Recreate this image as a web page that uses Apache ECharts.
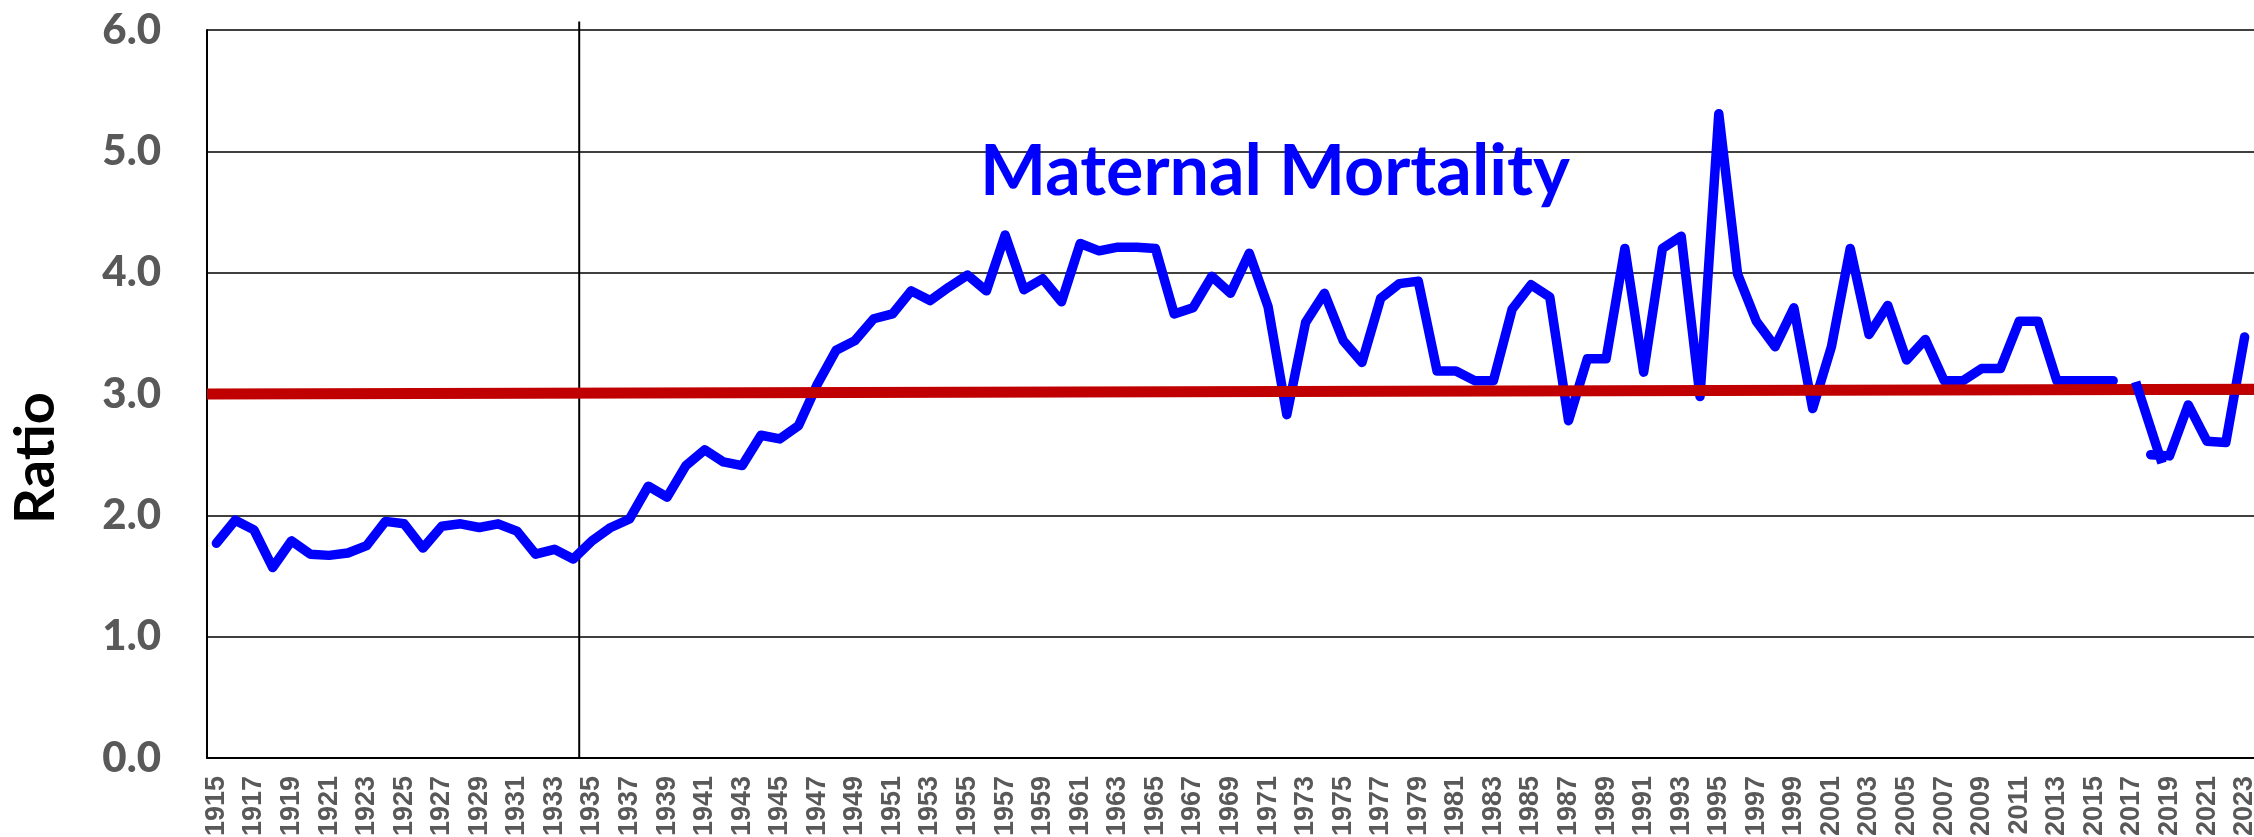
<!DOCTYPE html>
<html lang="en">
<head>
    <meta charset="UTF-8">
    <title>Maternal Mortality</title>
    <script type="text/javascript" src="https://cdn.jsdelivr.net/npm/echarts@6/dist/echarts.min.js"></script>
    <style>
        html, body { margin: 0; padding: 0; background: #fff; }
    </style>
</head>
<body>

<div id="chart" style="width:2254px;height:837px;"></div>

<script type="text/javascript">
    // years on the category axis
    var years = [];
    for (var y = 1915; y <= 2023; y++) years.push(String(y));

    // ratio (2017 missing)
    var ratio = [
        1.77, 1.96, 1.88, 1.57, 1.79, 1.68, 1.67, 1.69, 1.75, 1.95,   // 1915-1924
        1.93, 1.73, 1.91, 1.93, 1.90, 1.93, 1.87, 1.68, 1.72, 1.64,   // 1925-1934
        1.79, 1.90, 1.97, 2.24, 2.15, 2.41, 2.54, 2.44, 2.41, 2.66,   // 1935-1944
        2.63, 2.74, 3.08, 3.36, 3.44, 3.62, 3.66, 3.85, 3.77, 3.88,   // 1945-1954
        3.98, 3.85, 4.31, 3.86, 3.95, 3.76, 4.24, 4.18, 4.21, 4.21,   // 1955-1964
        4.20, 3.66, 3.71, 3.97, 3.83, 4.16, 3.72, 2.83, 3.59, 3.83,   // 1965-1974
        3.44, 3.26, 3.79, 3.91, 3.93, 3.19, 3.19, 3.11, 3.11, 3.70,   // 1975-1984
        3.90, 3.80, 2.78, 3.29, 3.29, 4.20, 3.18, 4.20, 4.30, 2.98,   // 1985-1994
        5.31, 3.99, 3.60, 3.39, 3.71, 2.88, 3.39, 4.20, 3.49, 3.73,   // 1995-2004
        3.28, 3.45, 3.11, 3.11, 3.21, 3.21, 3.60, 3.60, 3.11, 3.11,   // 2005-2014
        3.11, 3.11, null, 2.50, 2.49, 2.91, 2.61, 2.60, 3.47          // 2015-2023
    ];

    // short stray piece drawn across the 2017 gap
    var gapPiece = [[2017.2, 3.10], [2018.6, 2.43]];

    // red trend line across the plot
    var trend = [[1914.5, 3.00], [2023.5, 3.04]];

    // vertical marker between 1934 and 1935
    var marker = [[1934.32, 0], [1934.32, 6.07]];

    var yTicks = [0, 1, 2, 3, 4, 5, 6];

    var dom = document.getElementById("chart");
    var myChart = echarts.init(dom);

    var option = {
        animation: false,
        backgroundColor: '#ffffff',
        title: {
            text: 'Maternal Mortality',
            left: 975,
            top: 132,
            textStyle: {
                fontFamily: 'Lato',
                fontWeight: 'bold',
                fontSize: 70,
                color: '#0000FF'
            }
        },
        grid: {
            left: 207,
            right: 0,
            top: 30,
            bottom: 79,
            containLabel: false,
            outerBoundsMode: 'none'
        },
        xAxis: [{
            type: 'category',
            data: years,
            boundaryGap: true,
            axisLine: { lineStyle: { color: '#000', width: 2 } },
            axisTick: { show: false },
            axisLabel: {
                interval: 1,
                rotate: 90,
                margin: 18,
                fontFamily: 'Liberation Sans',
                fontWeight: 'bold',
                fontSize: 27,
                color: '#595959'
            },
            splitLine: { show: false }
        }, {
            // hidden numeric year axis for the trend and marker lines
            type: 'value',
            min: 1914.5,
            max: 2023.5,
            show: false
        }],
        yAxis: {
            type: 'value',
            min: 0,
            max: yTicks[yTicks.length - 1],
            interval: 1,
            name: 'Ratio',
            nameLocation: 'middle',
            nameRotate: 90,
            nameGap: 143,
            nameTextStyle: {
                fontFamily: 'Lato',
                fontWeight: 'bold',
                fontSize: 56,
                color: '#000',
                padding: [0, 128, 0, 0]
            },
            axisLine: { show: true, lineStyle: { color: '#000', width: 2 } },
            axisTick: { show: false },
            axisLabel: {
                margin: 46,
                fontFamily: 'Lato',
                fontWeight: 900,
                fontSize: 42,
                color: '#595959',
                formatter: function (v) { return v.toFixed(1); }
            },
            splitLine: { lineStyle: { color: '#000', width: 1.5 } }
        },
        series: [{
            name: 'Ratio',
            type: 'line',
            data: ratio,
            symbol: 'none',
            z: 2,
            lineStyle: { color: '#0000FF', width: 9.5, cap: 'round', join: 'round' }
        }, {
            type: 'line',
            xAxisIndex: 1,
            data: trend,
            symbol: 'none',
            z: 3,
            lineStyle: { color: '#C00000', width: 11 }
        }, {
            type: 'line',
            xAxisIndex: 1,
            data: gapPiece,
            symbol: 'none',
            z: 4,
            lineStyle: { color: '#0000FF', width: 9.5, cap: 'butt' }
        }, {
            type: 'line',
            xAxisIndex: 1,
            data: marker,
            symbol: 'none',
            clip: false,
            z: 1,
            lineStyle: { color: '#000', width: 2 }
        }]
    };

    if (option && typeof option === "object") {
        myChart.setOption(option, true);
    }
</script>

</body>
</html>
